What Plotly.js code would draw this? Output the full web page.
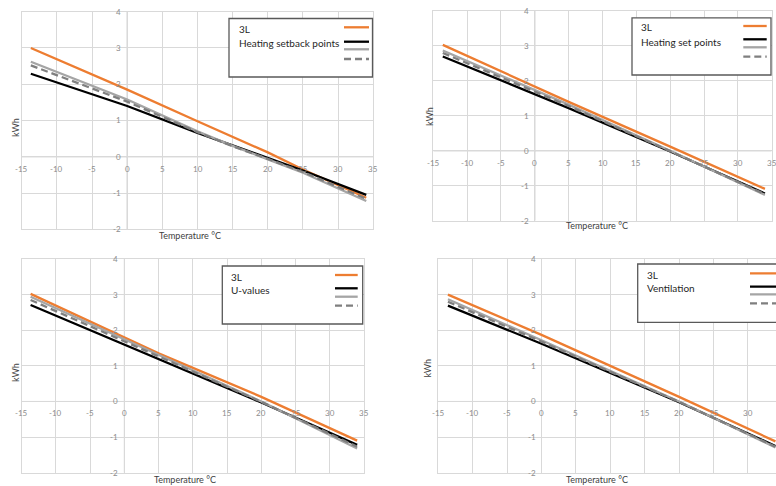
<!DOCTYPE html>
<html><head><meta charset="utf-8">
<script src="https://cdn.plot.ly/plotly-3.0.1.min.js"></script>
<style>html,body{margin:0;padding:0;background:#fff}#chart{width:776px;height:486px}</style>
</head><body><div id="chart"></div>
<script>
// ---- data ----
const xTicks = [-15, -10, -5, 0, 5, 10, 15, 20, 25, 30, 35];
const yTicks = [-2, -1, 0, 1, 2, 3, 4];
const seriesName = '3L';
const panelLabels = ['Heating setback points', 'Heating set points', 'U-values', 'Ventilation'];
const xTitle = 'Temperature °C';
const yTitle = 'kWh';

// Panel 1: Heating setback points
const p1Temp   = [-13.7, 0, 10, 15, 20, 25, 34];
const p1Orange = [3.00, 1.85, 0.98, 0.56, 0.12, -0.35, -1.13];
const p1Black  = [2.29, 1.40, 0.66, 0.32, -0.04, -0.38, -1.05];
const p1Gray   = [2.62, 1.58, 0.70, 0.30, -0.07, -0.44, -1.22];
const p1Dash   = [2.52, 1.52, 0.68, 0.29, -0.06, -0.42, -1.16];
// Panel 2: Heating set points
const p2Temp   = [-13.6, 5, 20, 34];
const p2Orange = [3.03, 1.40, 0.12, -1.09];
const p2Black  = [2.70, 1.22, -0.02, -1.22];
const p2Gray   = [2.87, 1.32, 0.00, -1.26];
const p2Dash   = [2.80, 1.28, -0.01, -1.24];
// Panel 3: U-values
const p3Temp   = [-13.7, 5, 20, 34];
const p3Orange = [3.02, 1.35, 0.13, -1.10];
const p3Black  = [2.71, 1.18, -0.03, -1.22];
const p3Gray   = [2.94, 1.30, 0.00, -1.32];
const p3Dash   = [2.85, 1.26, -0.01, -1.27];
// Panel 4: Ventilation
const p4Temp   = [-13.6, 0, 20, 34];
const p4Orange = [3.00, 1.87, 0.13, -1.12];
const p4Black  = [2.69, 1.62, -0.02, -1.25];
const p4Gray   = [2.87, 1.72, 0.00, -1.29];
const p4Dash   = [2.80, 1.68, -0.01, -1.27];

// ---- layout helpers ----
const W = 776, H = 486;
const px = x => x / W;
const py = y => 1 - y / H;
const FONT = 'Lato, "Liberation Sans", sans-serif';

const styles = [
  {color: '#ED7D31', dash: 'solid'},
  {color: '#000000', dash: 'solid'},
  {color: '#A5A5A5', dash: 'solid'},
  {color: '#7F7F7F', dash: '7px,4px'}
];

const panels = [
  {temp: p1Temp, ys: [p1Orange, p1Black, p1Gray, p1Dash], box: [21.7, 11.7, 373.3, 229.3], xr: [-15, 35], mirrorY: true,
   leg: {box: [229, 18.5, 372.5, 77], tx: 237, ty: [29, 43.3], sx: [344, 369], sy: [27.3, 41.7, 49.3, 59]},
   yt: [15, 128], xt: [190, 235]},
  {temp: p2Temp, ys: [p2Orange, p2Black, p2Gray, p2Dash], box: [433.3, 11, 771.7, 220.7], xr: [-15, 35], mirrorY: true,
   leg: {box: [632, 17.8, 771, 75], tx: 638.5, ty: [27, 41.7], sx: [743.3, 766.7], sy: [26, 39.3, 47.3, 56.7]},
   yt: [429.3, 116.7], xt: [596.7, 225.3]},
  {temp: p3Temp, ys: [p3Orange, p3Black, p3Gray, p3Dash], box: [21.7, 259, 364, 472.7], xr: [-15, 35], mirrorY: true,
   leg: {box: [222.3, 266, 362.7, 324], tx: 228.5, ty: [277.3, 290], sx: [335, 357.7], sy: [275, 288.3, 296.7, 305.7]},
   yt: [15, 373], xt: [185, 479.3]},
  {temp: p4Temp, ys: [p4Orange, p4Black, p4Gray, p4Dash], box: [438.3, 259, 776, 472.7], xr: [-15, 34.08], mirrorY: false,
   leg: {box: [637.7, 264, 810, 322.3], tx: 645, ty: [275, 288.3], sx: [750, 810], sy: [273.3, 286.7, 294.3, 303.3]},
   yt: [427.3, 368.3], xt: [596.7, 479.3]}
];

const traces = [];
const layout = {
  width: W, height: H,
  margin: {l: 0, r: 0, t: 0, b: 0},
  paper_bgcolor: '#ffffff', plot_bgcolor: '#ffffff',
  showlegend: false,
  font: {family: FONT},
  annotations: [], shapes: []
};

panels.forEach((p, i) => {
  const n = i === 0 ? '' : String(i + 1);
  const xa = 'x' + n, ya = 'y' + n;
  p.ys.forEach((vals, k) => {
    traces.push({
      type: 'scatter', mode: 'lines', x: p.temp, y: vals,
      xaxis: xa, yaxis: ya, name: k === 0 ? seriesName : (k === 1 ? panelLabels[i] : ''),
      line: {color: styles[k].color, width: 2.3, dash: styles[k].dash},
      hoverinfo: 'skip'
    });
  });
  const [l, t, r, b] = p.box;
  layout['xaxis' + n] = {
    domain: [px(l), Math.min(1, px(r))], range: p.xr, anchor: ya,
    tickvals: xTicks, showticklabels: false, ticks: '',
    showgrid: true, gridcolor: '#d9d9d9', gridwidth: 1,
    zeroline: false, showline: true, mirror: true, linecolor: '#d9d9d9', linewidth: 1,
    fixedrange: true
  };
  layout['yaxis' + n] = {
    domain: [py(b), py(t)], range: [-2, 4], anchor: xa,
    tickvals: yTicks, showticklabels: false, ticks: '',
    showgrid: true, gridcolor: '#d9d9d9', gridwidth: 1,
    zeroline: false, showline: true, mirror: p.mirrorY, linecolor: '#d9d9d9', linewidth: 1,
    fixedrange: true
  };
  // axis lines through zero (Excel style crossing axes)
  layout.shapes.push({type: 'line', xref: xa, yref: ya, x0: p.xr[0], x1: p.xr[1], y0: 0, y1: 0,
    line: {color: '#bfbfbf', width: 1}, layer: 'below'});
  layout.shapes.push({type: 'line', xref: xa, yref: ya, x0: 0, x1: 0, y0: -2, y1: 4,
    line: {color: '#bfbfbf', width: 1}, layer: 'below'});
  // tick labels next to the crossing axes
  xTicks.forEach(v => {
    if (v > p.xr[1] + 0.01) return;
    layout.annotations.push({xref: xa, yref: ya, x: v, y: 0, text: String(v), showarrow: false,
      xanchor: 'center', yanchor: 'top', yshift: -5, font: {size: 8, color: '#8c8c8c', family: FONT}});
  });
  yTicks.forEach(v => {
    layout.annotations.push({xref: xa, yref: ya, x: 0, y: v, text: String(v), showarrow: false,
      xanchor: 'right', yanchor: 'middle', xshift: -4, font: {size: 8, color: '#8c8c8c', family: FONT}});
  });
  // axis titles
  layout.annotations.push({xref: 'paper', yref: 'paper', x: px(p.yt[0]), y: py(p.yt[1]), text: yTitle,
    textangle: -90, showarrow: false, xanchor: 'center', yanchor: 'middle',
    font: {size: 9, color: '#404040', family: FONT}});
  layout.annotations.push({xref: 'paper', yref: 'paper', x: px(p.xt[0]), y: py(p.xt[1]), text: xTitle,
    showarrow: false, xanchor: 'center', yanchor: 'middle',
    font: {size: 9, color: '#404040', family: FONT}});
  // legend box
  const g = p.leg;
  layout.shapes.push({type: 'rect', xref: 'paper', yref: 'paper',
    x0: px(g.box[0]), x1: px(g.box[2]), y0: py(g.box[3]), y1: py(g.box[1]),
    line: {color: '#595959', width: 1.3}, fillcolor: '#ffffff', layer: 'above'});
  [seriesName, panelLabels[i]].forEach((txt, k) => {
    layout.annotations.push({xref: 'paper', yref: 'paper', x: px(g.tx), y: py(g.ty[k]), text: txt,
      showarrow: false, xanchor: 'left', yanchor: 'middle',
      font: {size: 10, color: '#262626', family: FONT}});
  });
  styles.forEach((s, k) => {
    layout.shapes.push({type: 'line', xref: 'paper', yref: 'paper',
      x0: px(g.sx[0]), x1: px(g.sx[1]), y0: py(g.sy[k]), y1: py(g.sy[k]),
      line: {color: s.color, width: 2.3, dash: s.dash}, layer: 'above'});
  });
});

Plotly.newPlot('chart', traces, layout, {staticPlot: true, displayModeBar: false});
</script></body></html>
